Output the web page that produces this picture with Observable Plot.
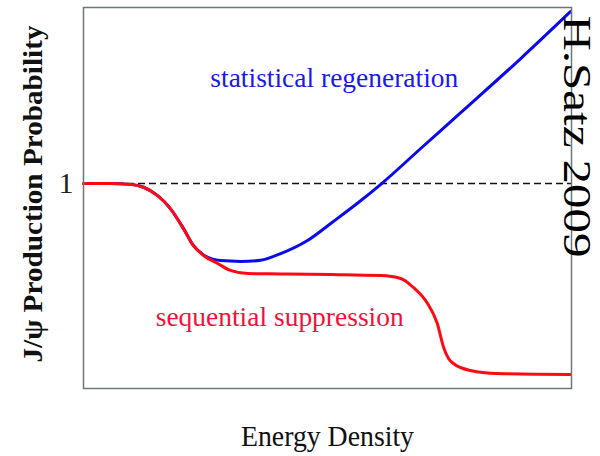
<!DOCTYPE html>
<html>
<head>
<meta charset="utf-8">
<script src="https://cdn.jsdelivr.net/npm/d3@7"></script>
<script src="https://cdn.jsdelivr.net/npm/@observablehq/plot@0.6"></script>
<style>
  html, body { margin: 0; padding: 0; background: #fff; }
</style>
</head>
<body>
<script>
// Sequential suppression (red)
const suppEnergy = [0, 0.55, 0.96, 1.23, 1.52, 1.78, 2.05, 2.25, 2.46, 2.75, 3.01, 3.36, 3.63, 4.04, 5.06, 6.09, 6.50, 6.76, 7.05, 7.25, 7.38, 7.48, 7.58, 7.93, 8.48, 9.98];
const suppProb   = [1.0, 1.0, 0.996, 0.982, 0.941, 0.878, 0.780, 0.698, 0.649, 0.610, 0.576, 0.561, 0.560, 0.559, 0.556, 0.551, 0.537, 0.493, 0.415, 0.317, 0.200, 0.146, 0.122, 0.088, 0.073, 0.068];

// Statistical regeneration (blue)
const regenEnergy = [0, 0.55, 0.96, 1.23, 1.52, 1.78, 2.05, 2.25, 2.46, 2.81, 3.22, 3.63, 4.04, 4.59, 5.12, 5.62, 6.11, 6.91, 7.73, 8.96, 9.98];
const regenProb   = [1.0, 1.0, 0.996, 0.982, 0.941, 0.878, 0.780, 0.698, 0.652, 0.624, 0.620, 0.626, 0.658, 0.722, 0.815, 0.905, 1.0, 1.171, 1.346, 1.610, 1.839];

const yTicks = [1];
const curveLabels = ["statistical regeneration", "sequential suppression"];
const labelEnergy = [5.14, 4.02];
const labelProb = [1.473, 0.307];
const xTitle = "Energy Density";
const yTitle = "J/ψ Production Probability";
const credit = "H.Satz 2009";

const supp = suppEnergy.map((e, i) => ({e, p: suppProb[i]}));
const regen = regenEnergy.map((e, i) => ({e, p: regenProb[i]}));
const labels = curveLabels.map((t, i) => ({t, e: labelEnergy[i], p: labelProb[i]}));

const serif = "'Liberation Serif', 'Times New Roman', serif";

const chart = Plot.plot({
  width: 600,
  height: 456,
  marginLeft: 83,
  marginRight: 29,
  marginTop: 7,
  marginBottom: 68,
  style: {fontFamily: serif, background: "#fff"},
  x: {domain: [0, 10], axis: null},
  y: {domain: [0, 1.859], axis: null},
  marks: [
    Plot.axisY(yTicks, {tickSize: 0, tickPadding: 10, fontSize: 30, fill: "#222", tickFormat: d => String(d), label: null}),
    Plot.ruleY(yTicks, {stroke: "#111", strokeWidth: 1.6, strokeDasharray: "7,4"}),
    Plot.line(regen, {x: "e", y: "p", stroke: "#0a0af0", strokeWidth: 3, curve: "monotone-x"}),
    Plot.line(supp, {x: "e", y: "p", stroke: "#ff0a14", strokeWidth: 3, curve: "monotone-x"}),
    Plot.frame({stroke: "#6b7878", strokeWidth: 1.5}),
    Plot.text(labels, {x: "e", y: "p", text: "t", fill: (d, i) => i === 0 ? "#1a1ae6" : "#f5103c", fontSize: 27, lineAnchor: "bottom", textAnchor: "middle"}),
    Plot.text([xTitle], {frameAnchor: "bottom", dy: 57, lineAnchor: "bottom", textAnchor: "middle", fontSize: 30, fill: "#111"}),
    Plot.text([yTitle], {frameAnchor: "left", rotate: -90, dx: -42, dy: -4, lineAnchor: "bottom", textAnchor: "middle", fontSize: 27, fontWeight: "bold", fill: "#111"}),
    Plot.text([credit], {frameAnchor: "top-right", rotate: 90, dx: -8, dy: 8, lineAnchor: "bottom", textAnchor: "start", fontSize: 41, fill: "#000"})
  ]
});

// Adjust text lengths to match the reference proportions
const lengths = {
  "statistical regeneration": 248,
  "sequential suppression": 248,
  "Energy Density": 173,
  "J/ψ Production Probability": 337,
  "H.Satz 2009": 242
};
chart.querySelectorAll("text").forEach(t => {
  const s = t.textContent;
  if (lengths[s]) {
    t.setAttribute("textLength", lengths[s]);
    t.setAttribute("lengthAdjust", "spacingAndGlyphs");
  }
});

document.body.append(chart);
</script>
</body>
</html>
